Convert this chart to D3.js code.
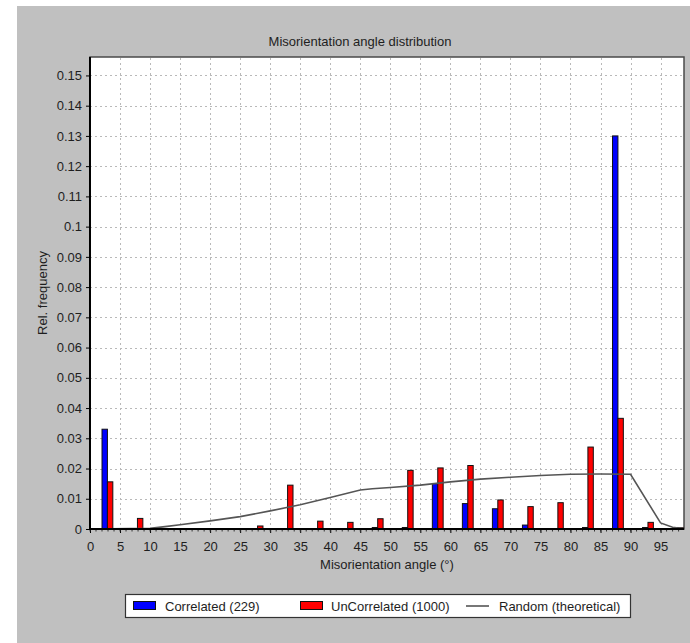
<!DOCTYPE html>
<html>
<head>
<meta charset="utf-8">
<script src="https://cdn.jsdelivr.net/npm/d3@7"></script>
<style>
  html, body { margin: 0; padding: 0; background: #ffffff; }
  svg { display: block; }
  text { font-family: "Liberation Sans", Arial, sans-serif; font-size: 13px; fill: #1e1e1e; }
</style>
</head>
<body>
<svg id="chart" width="690" height="643"></svg>
<script>
// Bin centres of the misorientation histogram (degrees)
const angles = [2.5, 7.5, 12.5, 17.5, 22.5, 27.5, 32.5, 37.5, 42.5, 47.5,
                52.5, 57.5, 62.5, 67.5, 72.5, 77.5, 82.5, 87.5, 92.5, 97.5];

// Relative frequency per bin
const correlated = [0.033, 0, 0, 0, 0, 0, 0, 0, 0, 0.0005,
                    0.0005, 0.015, 0.0084, 0.0067, 0.0013, 0, 0.0005, 0.130, 0.0005, 0.0005];
const uncorrelated = [0.0156, 0.0035, 0, 0, 0, 0.001, 0.0145, 0.0026, 0.0022, 0.0034,
                      0.0194, 0.0202, 0.021, 0.0096, 0.0074, 0.0087, 0.0271, 0.0366, 0.0022, 0.0004];

// Theoretical random distribution curve
const randomAngle = [0, 10, 12.5, 15, 20, 25, 30, 35, 40, 45, 47, 50, 55, 60, 65, 70, 75, 80, 85, 90, 95, 97, 98.9];
const randomFreq  = [0, 0.0002, 0.0008, 0.0014, 0.0027, 0.0041, 0.0060, 0.0080, 0.0104, 0.0129, 0.0133,
                     0.0137, 0.0145, 0.0156, 0.0165, 0.0171, 0.0177, 0.0181, 0.0182, 0.0181, 0.0020, 0.0006, 0.0001];

const xTicks = [0, 5, 10, 15, 20, 25, 30, 35, 40, 45, 50, 55, 60, 65, 70, 75, 80, 85, 90, 95];
const yTicks = [0, 0.01, 0.02, 0.03, 0.04, 0.05, 0.06, 0.07, 0.08, 0.09, 0.1, 0.11, 0.12, 0.13, 0.14, 0.15];

const seriesNames = ["Correlated (229)", "UnCorrelated (1000)", "Random (theoretical)"];

const svg = d3.select("#chart");

// window background panel
svg.append("rect").attr("x", 17).attr("y", 6).attr("width", 673).attr("height", 637).attr("fill", "#c0c0c0");

const plot = { left: 90, top: 57, right: 684, bottom: 529 };

const x = d3.scaleLinear().domain([0, 98.9]).range([plot.left, plot.right]);
const y = d3.scaleLinear().domain([0, 0.1561]).range([plot.bottom, plot.top]);

// plot area
svg.append("rect")
  .attr("x", plot.left).attr("y", plot.top)
  .attr("width", plot.right - plot.left).attr("height", plot.bottom - plot.top)
  .attr("fill", "#ffffff").attr("stroke", "#4a4a4a").attr("stroke-width", 1.5);

// dotted grid
const grid = svg.append("g").attr("stroke", "#b9b9b9").attr("stroke-width", 1).attr("stroke-dasharray", "2,3");
grid.selectAll("line.v").data(xTicks.filter(d => d > 0)).join("line")
  .attr("x1", d => Math.round(x(d)) + 0.5).attr("x2", d => Math.round(x(d)) + 0.5)
  .attr("y1", plot.top + 1).attr("y2", plot.bottom);
grid.selectAll("line.h").data(yTicks.filter(d => d > 0)).join("line")
  .attr("y1", d => Math.round(y(d)) + 0.5).attr("y2", d => Math.round(y(d)) + 0.5)
  .attr("x1", plot.left).attr("x2", plot.right - 1);

// bars: correlated on the left of each bin, uncorrelated on the right
const bars = svg.append("g").attr("stroke", "#111").attr("stroke-width", 1);
const barData = [];
angles.forEach((a, i) => {
  if (correlated[i] > 0) barData.push({ x0: a - 0.5, x1: a + 0.4, v: correlated[i], c: "#0000ff" });
  if (uncorrelated[i] > 0) barData.push({ x0: a + 0.4, x1: a + 1.3, v: uncorrelated[i], c: "#ff0000" });
});
bars.selectAll("rect").data(barData).join("rect")
  .attr("x", d => x(d.x0)).attr("width", d => x(d.x1) - x(d.x0))
  .attr("y", d => y(d.v)).attr("height", d => y(0) - y(d.v))
  .attr("fill", d => d.c);

// theoretical curve
const line = d3.line().x(d => x(d[0])).y(d => y(d[1]));
svg.append("path")
  .datum(randomAngle.map((a, i) => [a, randomFreq[i]]))
  .attr("d", line)
  .attr("fill", "none").attr("stroke", "#555").attr("stroke-width", 1.6);

// axes
const xAxis = d3.axisBottom(x).tickValues(xTicks).tickSize(4).tickPadding(9);
const gx = svg.append("g").attr("transform", `translate(0,${plot.bottom})`).call(xAxis);
gx.select(".domain").remove();
gx.selectAll("text").style("font-size", "13px").attr("fill", "#1e1e1e");

const minor = d3.range(0, 99, 1);
svg.append("g").selectAll("line").data(minor).join("line")
  .attr("x1", d => x(d)).attr("x2", d => x(d))
  .attr("y1", plot.bottom).attr("y2", plot.bottom + 2.5)
  .attr("stroke", "#333").attr("stroke-width", 1);

const yAxis = d3.axisLeft(y).tickValues(yTicks).tickFormat(d => d3.format("~g")(d)).tickSize(4).tickPadding(4);
const gy = svg.append("g").attr("transform", `translate(${plot.left},0)`).call(yAxis);
gy.select(".domain").remove();
gy.selectAll("text").style("font-size", "13px").attr("fill", "#1e1e1e");

svg.append("line").attr("x1", plot.left).attr("x2", plot.left).attr("y1", plot.top).attr("y2", plot.bottom + 1)
  .attr("stroke", "#000").attr("stroke-width", 2);
svg.append("line").attr("x1", plot.left - 1).attr("x2", plot.right).attr("y1", plot.bottom).attr("y2", plot.bottom)
  .attr("stroke", "#000").attr("stroke-width", 2);

// titles
svg.append("text").attr("x", 360).attr("y", 46).attr("text-anchor", "middle").text("Misorientation angle distribution");
svg.append("text").attr("x", (plot.left + plot.right) / 2).attr("y", 569).attr("text-anchor", "middle")
  .text("Misorientation angle (°)");
svg.append("text").attr("transform", "translate(47,293) rotate(-90)").attr("text-anchor", "middle")
  .text("Rel. frequency");

// legend
const lg = svg.append("g");
lg.append("rect").attr("x", 125.5).attr("y", 594.5).attr("width", 505).attr("height", 23)
  .attr("fill", "#fff").attr("stroke", "#333").attr("stroke-width", 1.2);
lg.append("rect").attr("x", 133.5).attr("y", 601.5).attr("width", 22).attr("height", 8)
  .attr("fill", "#0000ff").attr("stroke", "#111");
lg.append("text").attr("x", 165).attr("y", 610.5).text(seriesNames[0]);
lg.append("rect").attr("x", 300.5).attr("y", 601.5).attr("width", 22).attr("height", 8)
  .attr("fill", "#ff0000").attr("stroke", "#111");
lg.append("text").attr("x", 331).attr("y", 610.5).text(seriesNames[1]);
lg.append("line").attr("x1", 466).attr("x2", 489).attr("y1", 606).attr("y2", 606)
  .attr("stroke", "#555").attr("stroke-width", 1.6);
lg.append("text").attr("x", 499).attr("y", 610.5).text(seriesNames[2]);
</script>
</body>
</html>
